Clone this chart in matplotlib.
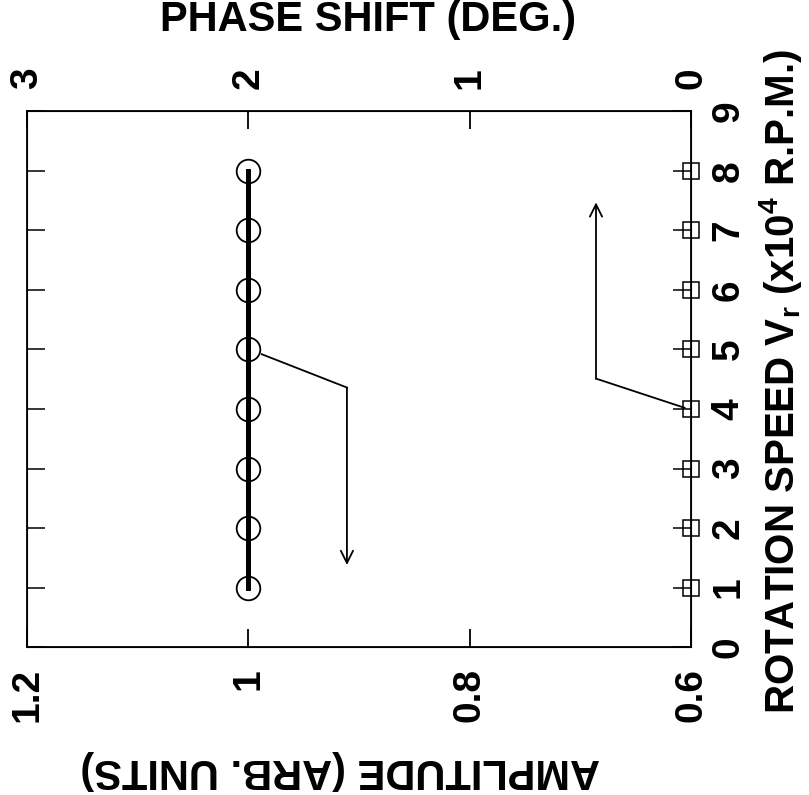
import matplotlib.pyplot as plt

plt.rcParams['font.family'] = ['Liberation Sans', 'DejaVu Sans']
plt.rcParams['font.weight'] = 'bold'
plt.rcParams['mathtext.fontset'] = 'custom'
plt.rcParams['mathtext.rm'] = 'Liberation Sans:bold'
plt.rcParams['mathtext.it'] = 'Liberation Sans:bold'
plt.rcParams['mathtext.bf'] = 'Liberation Sans:bold'

# datos
velocidad = [1, 2, 3, 4, 5, 6, 7, 8]
amplitud = [1.0, 1.0, 1.0, 1.0, 1.0, 1.0, 1.0, 1.0]
fase = [0, 0, 0, 0, 0, 0, 0, 0]

amp_ticks = [1.2, 1.0, 0.8, 0.6]
amp_labels = ['1.2', '1', '0.8', '0.6']
fase_ticks = [3, 2, 1, 0]
fase_labels = ['3', '2', '1', '0']
vel_ticks = list(range(10))

# flechas (amplitud/fase, velocidad)
flecha_amp = [(0.988, 4.92), (0.911, 4.36), (0.911, 1.38)]
flecha_fase = [(0.03, 4.02), (0.43, 4.51), (0.43, 7.47)]

fig = plt.figure(figsize=(8.09, 7.95), dpi=100)
ax = fig.add_axes([0.0334, 0.186, 0.821, 0.674])

ax.plot(amplitud, velocidad, color='black', lw=3.6, zorder=3)
ax.plot(amplitud, velocidad, 'o', mfc='none', mec='black', ms=17, mew=1.3, zorder=4)

xs = [p[0] for p in flecha_amp]
ys = [p[1] for p in flecha_amp]
ax.plot(xs[:2], ys[:2], color='black', lw=1.3)
ax.annotate('', xy=flecha_amp[2], xytext=flecha_amp[1],
            arrowprops=dict(arrowstyle='->', color='black', lw=1.3,
                            mutation_scale=22, shrinkA=0, shrinkB=0))

ax.set_xlim(1.2, 0.6)
ax.set_ylim(0, 9)
ax.set_xticks(amp_ticks)
ax.set_xticklabels(amp_labels, rotation=90, fontsize=28, fontweight='bold',
                   ha='center', va='top')
ax.set_yticks(vel_ticks)
ax.set_yticklabels([str(v) for v in vel_ticks], rotation=90, fontsize=28,
                   fontweight='bold', ha='left', va='center')
ax.tick_params(axis='x', direction='in', length=13, width=1.3, pad=15,
               top=False)
ax.tick_params(axis='y', direction='in', length=13, width=1.1, pad=14,
               left=True, right=True, labelleft=False, labelright=True)
for s in ax.spines.values():
    s.set_linewidth(1.3)

ax2 = ax.twiny()
ax2.set_xlim(3, 0)
ax2.set_xticks(fase_ticks)
ax2.set_xticklabels(fase_labels, rotation=90, fontsize=28, fontweight='bold',
                    ha='center', va='bottom')
ax2.tick_params(axis='x', direction='in', length=13, width=1.3, pad=16)
ax2.plot(fase, velocidad, 's', mfc='none', mec='black', ms=11, mew=1.1,
         zorder=4, clip_on=False)

xs = [p[0] for p in flecha_fase]
ys = [p[1] for p in flecha_fase]
ax2.plot(xs[:2], ys[:2], color='black', lw=1.3)
ax2.annotate('', xy=flecha_fase[2], xytext=flecha_fase[1],
             arrowprops=dict(arrowstyle='->', color='black', lw=1.3,
                             mutation_scale=22, shrinkA=0, shrinkB=0))

fig.text(0.455, 0.975, 'PHASE SHIFT (DEG.)', fontsize=30, fontweight='bold',
         ha='center', va='center')
fig.text(0.42, 0.031, 'AMPLITUDE (ARB. UNITS)', fontsize=30, fontweight='bold',
         ha='center', va='center', rotation=180)
fig.text(0.965, 0.52, r'ROTATION SPEED V$_{\mathrm{r}}$ (x10$^{4}$ R.P.M.)',
         fontsize=29, fontweight='bold', ha='center', va='center', rotation=90)

fig.savefig('out.png', dpi=100)
